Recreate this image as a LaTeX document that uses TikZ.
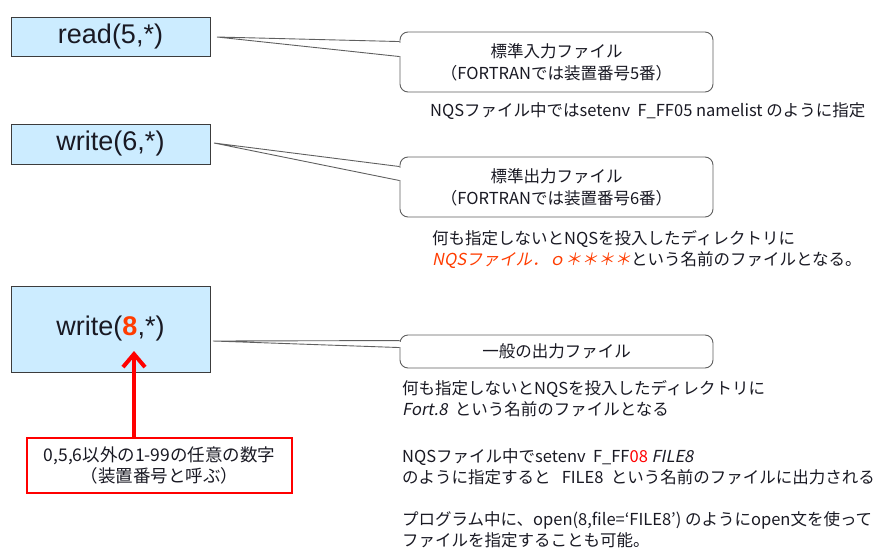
\documentclass[tikz,border=0pt]{standalone}
\usepackage{fontspec}
\setmainfont{Noto Sans CJK JP}[AutoFakeSlant=0.2]
\newfontfamily\arialfont{Liberation Sans}
\usetikzlibrary{calc,arrows.meta}

\definecolor{boxblue}{RGB}{204,236,255}
\definecolor{boxline}{RGB}{60,60,60}
\definecolor{calloutline}{RGB}{95,95,95}
\definecolor{txtdark}{RGB}{25,25,35}
\definecolor{hotred}{RGB}{255,60,0}
\definecolor{alertred}{RGB}{255,0,0}

\begin{document}
\begin{tikzpicture}[x=1pt,y=-1pt,
  unitbox/.style={draw=boxline,fill=boxblue,line width=0.9pt,minimum width=199pt,
    inner sep=0pt,text=txtdark,font=\arialfont\fontsize{27}{32}\selectfont},
  callout/.style={draw=calloutline,fill=white,rounded corners=8pt,line width=0.9pt,
    minimum width=313pt,inner sep=0pt,align=center,text=txtdark,
    font=\fontsize{16.5}{22}\selectfont},
  tail/.style={draw=calloutline,line width=0.9pt},
  note/.style={anchor=west,align=left,inner sep=0pt,text=txtdark,
    font=\fontsize{16.5}{21}\selectfont},
  pickbox/.style={draw=alertred,line width=1.5pt,minimum width=265pt,minimum height=55pt,
    inner sep=0pt,align=center,text=txtdark,font=\fontsize{17.5}{21}\selectfont}
  ]
\useasboundingbox (0,0) rectangle (887,552);

% unit boxes
\node[unitbox,minimum height=39pt] (rd) at (110.5,36.5) {read(5,*)};
\node[unitbox,minimum height=40pt] (wr6) at (110.5,144) {write(6,*)};
\node[unitbox,minimum height=86pt] (wr8) at (110.5,329) {write(\textcolor{hotred}{\textbf{8}},*)};

% callouts
\node[callout,minimum height=60pt] (stdin) at (556.5,62)
  {標準入力ファイル\\（FORTRANでは装置番号5番）};
\node[callout,minimum height=60pt] (stdout) at (556.5,187)
  {標準出力ファイル\\（FORTRANでは装置番号6番）};
\node[callout,minimum height=33pt] (genout) at (556.5,351.5)
  {一般の出力ファイル};

\coordinate (rdtip) at (217,37);
\coordinate (wr6tip) at (214,143);
\coordinate (wr8tip) at (213,341);

\draw[white,line width=2pt] ($(stdin.north west)+(0,11)$) -- ($(stdin.north west)+(0,24)$);
\draw[tail] ($(stdin.north west)+(0,10)$) -- (rdtip) -- ($(stdin.north west)+(0,25)$);
\draw[white,line width=2pt] ($(stdout.north west)+(0,11)$) -- ($(stdout.north west)+(0,23)$);
\draw[tail] ($(stdout.north west)+(0,10)$) -- (wr6tip) -- ($(stdout.north west)+(0,24)$);
\draw[white,line width=2pt] ($(genout.north west)+(0,7)$) -- ($(genout.north west)+(0,12)$);
\draw[tail] ($(genout.north west)+(0,6)$) -- (wr8tip) -- ($(genout.north west)+(0,13)$);

% notes
\node[note] (nqsin) at (430,111)
  {NQSファイル中ではsetenv\ \ F\_FF05 namelist のように指定};
\node[note] (nqsout) at (432,249)
  {何も指定しないとNQSを投入したディレクトリに\\
   {\color{hotred}\itshape NQSファイル．ｏ＊＊＊＊}という名前のファイルとなる。};
\node[note] (gen1) at (402,399)
  {何も指定しないとNQSを投入したディレクトリに\\
   \textit{Fort.8}\ \ という名前のファイルとなる};
\node[note] (gen2) at (402,467)
  {NQSファイル中でsetenv\ \ F\_FF{\color{alertred}08} \textit{FILE8}\\
   のように指定すると\ \ \ FILE8\ \ という名前のファイルに出力される};
\node[note] (gen3) at (402,530)
  {プログラム中に、open(8,file=‘FILE8’) のようにopen文を使って\\
   ファイルを指定することも可能。};

% unit number pick
\node[pickbox] (pick) at (159.5,465.5) {0,5,6以外の1-99の任意の数字\\（装置番号と呼ぶ）};
\coordinate (eight) at (134,351);
\draw[alertred,line width=4pt,-{Straight Barb[length=13pt,width=22pt,line width=4pt]}]
  (pick.north -| eight) -- (eight);
\end{tikzpicture}
\end{document}
